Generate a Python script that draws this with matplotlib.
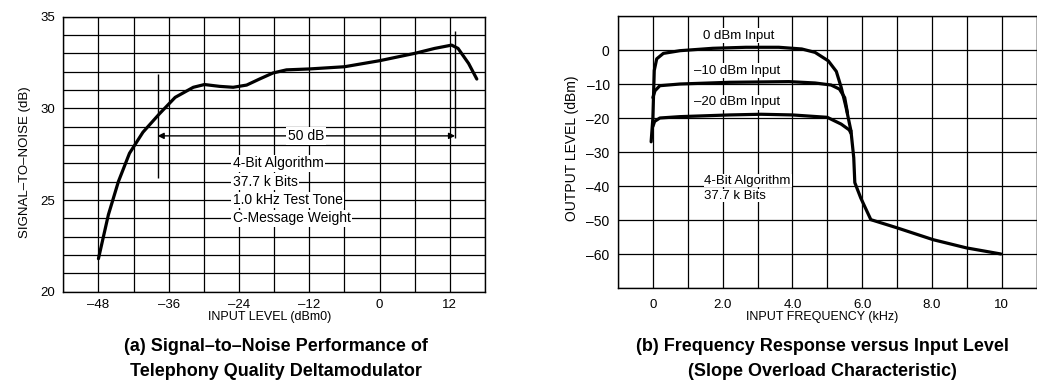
import matplotlib
matplotlib.use("Agg")
import matplotlib.pyplot as plt
import numpy as np

# (a) signal-to-noise vs input level
snr_level = [-48, -46.3, -44.6, -42.7, -40.4, -37.6, -34.9, -31.8, -29.9, -27.3, -25, -22.7,
             -20.5, -18.2, -15.9, -12, -6, 0, 6, 9.4, 12.3, 13.4, 15.2, 16.6]
snr_db = [21.8, 24.2, 26.0, 27.55, 28.7, 29.7, 30.6, 31.15, 31.3, 31.2, 31.15, 31.27,
          31.6, 31.93, 32.1, 32.15, 32.27, 32.6, 33.0, 33.27, 33.45, 33.27, 32.45, 31.6]
range_marks = [-37.9, 12.9]
notes_a = ["4-Bit Algorithm", "37.7 k Bits", "1.0 kHz Test Tone", "C-Message Weight"]

# (b) frequency response for three input levels, plus the shared overload tail
freq_0 = [-0.05, 0.0, 0.04, 0.11, 0.3, 0.78, 1.72, 2.67, 3.61, 4.27, 4.65, 5.03, 5.26, 5.4, 5.54, 5.68]
out_0 = [-27, -20, -6, -2.6, -1.0, -0.2, 0.5, 0.8, 0.8, 0.3, -0.7, -3.2, -6.3, -11, -16.9, -23.8]
freq_10 = [0.0, 0.06, 0.2, 0.78, 2.2, 3.9, 4.65, 5.11, 5.35, 5.5, 5.58]
out_10 = [-14, -12, -10.5, -10.0, -9.5, -9.3, -9.7, -10.3, -11.5, -14, -18.5]
freq_20 = [0.0, 0.05, 0.2, 0.78, 2.2, 3.1, 4.0, 5.0, 5.4, 5.63, 5.68]
out_20 = [-22.5, -21, -20.0, -19.6, -19.1, -18.9, -19.1, -19.8, -21.8, -23.5, -24.5]
tail_freq = [5.68, 5.76, 5.79, 5.96, 6.25, 7.0, 8.04, 8.99, 9.98]
tail_out = [-23.8, -31.7, -39, -43.5, -49.9, -52.3, -55.8, -58.2, -60.0]
curve_labels = ["0 dBm Input", "\u201310 dBm Input", "\u201320 dBm Input"]
notes_b = ["4-Bit Algorithm", "37.7 k Bits"]

plt.rcParams["font.family"] = ["Liberation Sans", "DejaVu Sans"]

W, H = 1037, 387
fig = plt.figure(figsize=(W / 100, H / 100), dpi=100)


def px_axes(x0, y0, x1, y1):
    return fig.add_axes([x0 / W, 1 - y1 / H, (x1 - x0) / W, (y1 - y0) / H])


def dash(v):
    return f"{v:g}".replace("-", "\u2013")


def style_grid(ax):
    ax.grid(True, color="black", lw=0.9)
    ax.tick_params(length=0)
    for s in ax.spines.values():
        s.set_linewidth(1.0)


# ---- panel (a)
ax1 = px_axes(63.3, 16.7, 485, 291.7)
ax1.set_xlim(-54, 18)
ax1.set_ylim(20, 35)
ax1.set_xticks(np.arange(-54, 19, 6))
ax1.set_xticklabels([dash(v) if v % 12 == 0 else "" for v in range(-54, 19, 6)], fontsize=9.5)
ax1.set_yticks(np.arange(20, 36, 1))
ax1.set_yticklabels([str(v) if v % 5 == 0 else "" for v in range(20, 36)], fontsize=9.5)
ax1.tick_params(axis="x", pad=5)
ax1.tick_params(axis="y", pad=6)
style_grid(ax1)
ax1.plot(snr_level, snr_db, color="black", lw=2.3, solid_capstyle="round", zorder=5)

ax1.vlines(range_marks[0], 26.2, 31.9, color="black", lw=1.0, zorder=4)
ax1.vlines(range_marks[1], 28.4, 34.2, color="black", lw=1.0, zorder=4)
mid = -12.6
for end in range_marks:
    ax1.annotate("", xy=(end, 28.5), xytext=(mid, 28.5),
                 arrowprops=dict(arrowstyle="-|>", color="black", lw=1.0,
                                 mutation_scale=9, shrinkA=0, shrinkB=0), zorder=4)
ax1.text(mid, 28.5, "50 dB", ha="center", va="center", fontsize=10, zorder=6,
         bbox=dict(facecolor="white", edgecolor="none", pad=1.5))
for i, line in enumerate(notes_a):
    ax1.text(-25.1, 27 - i, line, ha="left", va="center", fontsize=10, zorder=6,
             bbox=dict(facecolor="white", edgecolor="none", pad=1.0))

# ---- panel (b)
ax2 = px_axes(618, 16, 1036.5, 288)
ax2.set_xlim(-1, 11)
ax2.set_ylim(-70, 10)
ax2.set_xticks(np.arange(-1, 12, 1))
xl = {0: "0", 2: "2.0", 4: "4.0", 6: "6.0", 8: "8.0", 10: "10"}
ax2.set_xticklabels([xl.get(v, "") for v in range(-1, 12)], fontsize=9.5)
ax2.set_yticks(np.arange(-70, 11, 10))
ax2.set_yticklabels([dash(v) if -60 <= v <= 0 else "" for v in range(-70, 11, 10)], fontsize=10)
ax2.tick_params(axis="x", pad=8)
ax2.tick_params(axis="y", pad=6)
style_grid(ax2)
for fx, fy in [(freq_0, out_0), (freq_10, out_10), (freq_20, out_20), (tail_freq, tail_out)]:
    ax2.plot(fx, fy, color="black", lw=2.3, solid_capstyle="round", zorder=5)

for (lx, ly), txt in zip([(1.43, 4.2), (1.19, -6.1), (1.19, -15.4)], curve_labels):
    ax2.text(lx, ly, txt, ha="left", va="center", fontsize=9.5, zorder=6,
             bbox=dict(facecolor="white", edgecolor="none", pad=1.0))
for i, line in enumerate(notes_b):
    ax2.text(1.48, -38.4 - 4.4 * i, line, ha="left", va="center", fontsize=9.5, zorder=6,
             bbox=dict(facecolor="white", edgecolor="none", pad=0.5))

# ---- labels and captions
fig.text(270 / W, 1 - 317 / H, "INPUT LEVEL (dBm0)", ha="center", va="center", fontsize=9)
fig.text(822 / W, 1 - 317 / H, "INPUT FREQUENCY (kHz)", ha="center", va="center", fontsize=9)
fig.text(25 / W, 1 - 162 / H, "SIGNAL\u2013TO\u2013NOISE (dB)", rotation=90,
         ha="center", va="center", fontsize=9.5)
fig.text(572 / W, 1 - 148 / H, "OUTPUT LEVEL (dBm)", rotation=90,
         ha="center", va="center", fontsize=10)
fig.text(276 / W, 1 - 346.7 / H, "(a) Signal\u2013to\u2013Noise Performance of",
         ha="center", va="center", fontsize=13, weight="bold")
fig.text(276 / W, 1 - 371.7 / H, "Telephony Quality Deltamodulator",
         ha="center", va="center", fontsize=13, weight="bold")
fig.text(822 / W, 1 - 346.7 / H, "(b) Frequency Response versus Input Level",
         ha="center", va="center", fontsize=13, weight="bold")
fig.text(822 / W, 1 - 371.7 / H, "(Slope Overload Characteristic)",
         ha="center", va="center", fontsize=13, weight="bold")

fig.savefig("out.png", dpi=100)
